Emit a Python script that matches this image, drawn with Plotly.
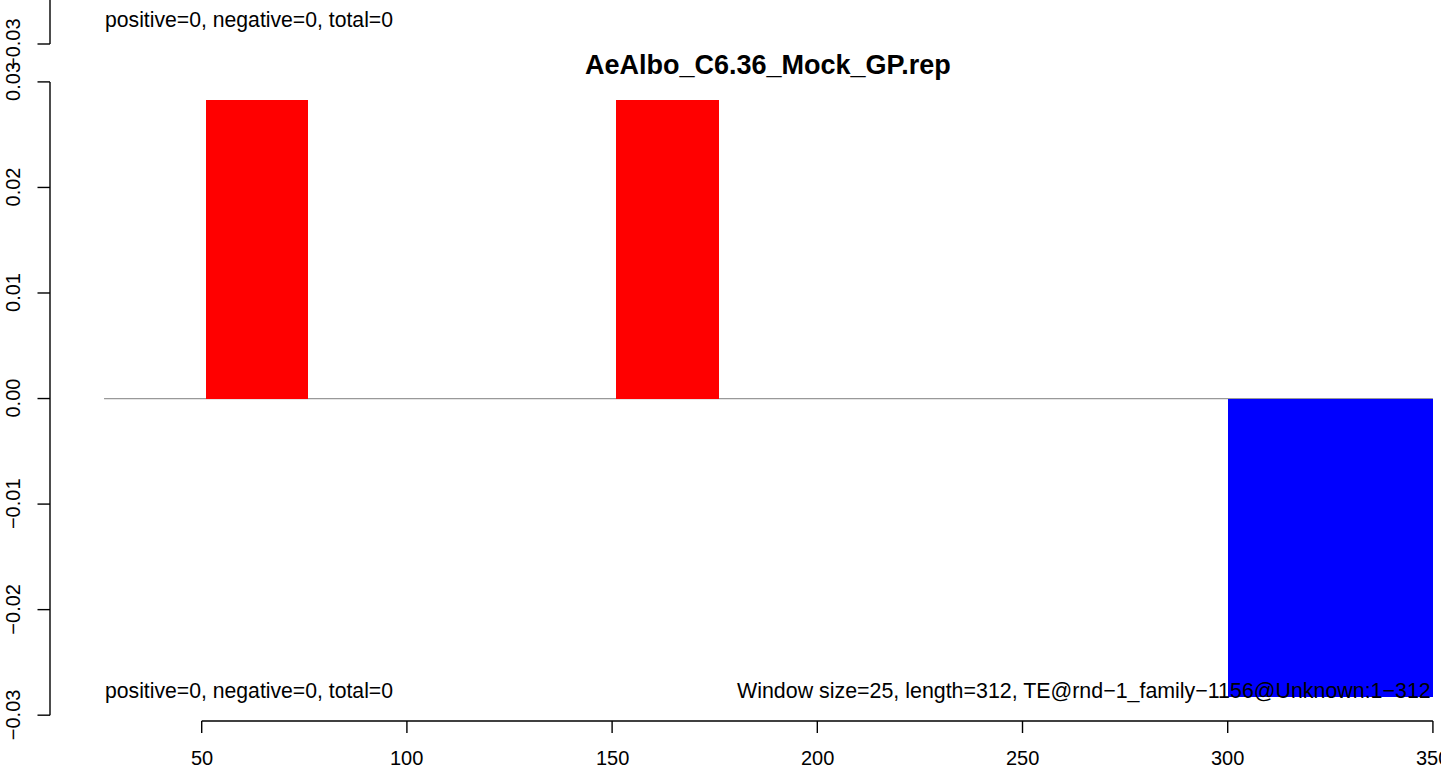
import plotly.graph_objects as go

W, H = 1441, 767

# ---- data ----
bar_left = [51, 151, 300]
bar_right = [76, 176, 350]
bar_value = [0.0283, 0.0283, -0.0283]
bar_color = ["#FF0000", "#FF0000", "#0000FF"]

x_ticks = [50, 100, 150, 200, 250, 300, 350]
x_tick_labels = ["50", "100", "150", "200", "250", "300", "350"]
y_ticks = [-0.03, -0.02, -0.01, 0.00, 0.01, 0.02, 0.03]
y_tick_labels = ["−0.03", "−0.02", "−0.01", "0.00", "0.01", "0.02", "0.03"]

title = "AeAlbo_C6.36_Mock_GP.rep"
stats_text = "positive=0, negative=0, total=0"
info_text = "Window size=25, length=312, TE@rnd−1_family−1156@Unknown:1−312"

# axis ranges chosen so the plot area fills the page
X_RANGE = [0.85, 351.97]
Y_RANGE = [-0.03491, 0.03776]

def px(xp):
    return xp / W

def py(yp):
    return 1 - yp / H

fig = go.Figure()

centers = [(l + r) / 2 for l, r in zip(bar_left, bar_right)]
widths = [r - l for l, r in zip(bar_left, bar_right)]
fig.add_trace(go.Bar(x=centers, y=bar_value, width=widths, base=0,
                     marker=dict(color=bar_color, line=dict(width=0)),
                     hoverinfo="skip", showlegend=False))

LW = 1.4
shapes = []
# zero reference line
shapes.append(dict(type="line", xref="x", yref="y", x0=26.2, x1=350, y0=0, y1=0,
                   line=dict(color="#999999", width=1.3), layer="below"))

# y axis (main)
AX_X = px(50)
shapes.append(dict(type="line", xref="paper", yref="y", x0=AX_X, x1=AX_X,
                   y0=y_ticks[0], y1=y_ticks[-1], line=dict(color="black", width=LW)))
for v in y_ticks:
    shapes.append(dict(type="line", xref="paper", yref="y", x0=px(37.5), x1=AX_X,
                       y0=v, y1=v, line=dict(color="black", width=LW)))
# fragment of the panel above
shapes.append(dict(type="line", xref="paper", yref="paper", x0=AX_X, x1=AX_X,
                   y0=py(44), y1=1.0, line=dict(color="black", width=LW)))
shapes.append(dict(type="line", xref="paper", yref="paper", x0=px(37.5), x1=AX_X,
                   y0=py(44), y1=py(44), line=dict(color="black", width=LW)))

# x axis
AX_Y = py(721)
shapes.append(dict(type="line", xref="x", yref="paper", x0=x_ticks[0], x1=x_ticks[-1],
                   y0=AX_Y, y1=AX_Y, line=dict(color="black", width=LW)))
for v in x_ticks:
    shapes.append(dict(type="line", xref="x", yref="paper", x0=v, x1=v,
                       y0=AX_Y, y1=py(733), line=dict(color="black", width=LW)))

FONT = "Liberation Sans, Arial, Helvetica, sans-serif"
TICK_FS = 20
annotations = []
for v, t in zip(y_ticks, y_tick_labels):
    annotations.append(dict(xref="paper", yref="y", x=px(13), y=v, text=t, showarrow=False,
                            textangle=-90, xanchor="center", yanchor="middle",
                            font=dict(family=FONT, size=TICK_FS, color="black")))
annotations.append(dict(xref="paper", yref="paper", x=px(13), y=py(44), text="−0.03",
                        showarrow=False, textangle=-90, xanchor="center", yanchor="middle",
                        font=dict(family=FONT, size=TICK_FS, color="black")))
for v, t in zip(x_ticks, x_tick_labels):
    annotations.append(dict(xref="x", yref="paper", x=v, y=py(758), text=t, showarrow=False,
                            xanchor="center", yanchor="middle",
                            font=dict(family=FONT, size=TICK_FS, color="black")))

annotations.append(dict(xref="paper", yref="paper", x=px(768), y=py(65), text="<b>" + title + "</b>",
                        showarrow=False, xanchor="center", yanchor="middle",
                        font=dict(family=FONT, size=27, color="black")))
annotations.append(dict(xref="paper", yref="paper", x=px(103), y=py(20), text=stats_text,
                        showarrow=False, xanchor="left", yanchor="middle",
                        font=dict(family=FONT, size=21.2, color="black")))
annotations.append(dict(xref="paper", yref="paper", x=px(103), y=py(691), text=stats_text,
                        showarrow=False, xanchor="left", yanchor="middle",
                        font=dict(family=FONT, size=21.2, color="black")))
annotations.append(dict(xref="paper", yref="paper", x=px(1433), y=py(691), text=info_text,
                        showarrow=False, xanchor="right", yanchor="middle",
                        font=dict(family=FONT, size=21.4, color="black")))

fig.update_layout(
    width=W, height=H,
    margin=dict(l=0, r=0, t=0, b=0),
    paper_bgcolor="white", plot_bgcolor="white",
    xaxis=dict(range=X_RANGE, visible=False, fixedrange=True),
    yaxis=dict(range=Y_RANGE, visible=False, fixedrange=True),
    bargap=0,
    shapes=shapes,
    annotations=annotations,
)

fig.write_html("out.html", config={"displayModeBar": False},
               post_script="document.body.style.margin='0';document.body.style.overflow='hidden';")
